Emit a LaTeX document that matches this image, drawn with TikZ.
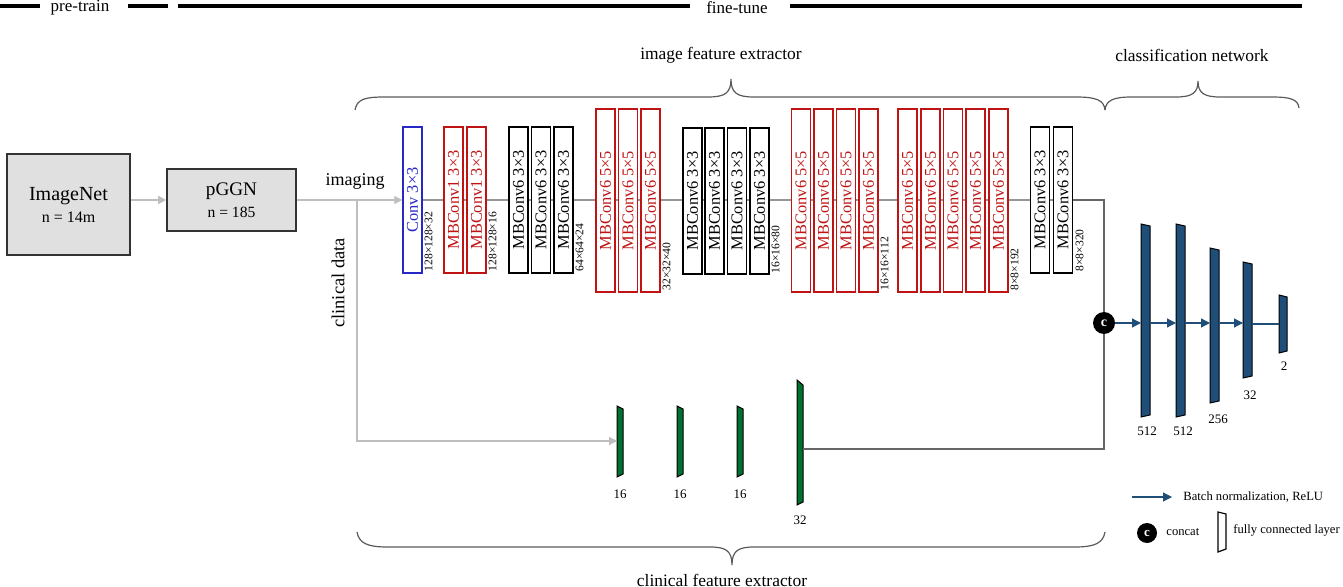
\documentclass[tikz,border=0pt]{standalone}
\usepackage{fontspec}
\setmainfont{Liberation Serif}
\usetikzlibrary{arrows.meta,backgrounds}
\definecolor{boxred}{RGB}{192,20,20}
\definecolor{convblue}{RGB}{40,40,200}
\definecolor{fcblue}{RGB}{31,78,121}
\definecolor{fcgreen}{RGB}{0,112,48}
\definecolor{boxgray}{RGB}{224,224,224}
\definecolor{linegray}{RGB}{150,150,150}
\definecolor{lightline}{RGB}{190,190,190}
\definecolor{bracegray}{RGB}{90,90,90}
\begin{document}
\begin{tikzpicture}[x=0.5pt,y=-0.5pt,
  layer/.style={draw, fill=white, rotate=90, inner sep=0pt, minimum height=9.5pt, line width=0.7pt, font=\fontsize{8.2}{9}\selectfont},
  short/.style={layer, minimum width=73pt},
  tall/.style={layer, minimum width=91.5pt},
  redbox/.style={draw=boxred, text=boxred},
  bluebox/.style={draw=convblue, text=convblue},
  dimlabel/.style={rotate=90, anchor=north west, inner sep=0.6pt, font=\fontsize{5.8}{6}\selectfont},
  graybox/.style={draw=black!80, line width=0.8pt, fill=boxgray, align=center},
  grayarrow/.style={draw=lightline, line width=0.6pt, -{Triangle[length=4pt,width=4pt]}},
  bluearrow/.style={draw=fcblue, line width=0.6pt, -{Triangle[length=4.5pt,width=4.5pt]}},
  fcb/.style={draw=black, line width=0.5pt, fill=fcblue},
  fcg/.style={draw=black, line width=0.5pt, fill=fcgreen},
  numlabel/.style={font=\fontsize{6.5}{7}\selectfont, inner sep=0pt},
  legtxt/.style={font=\fontsize{6.3}{7}\selectfont, inner sep=0pt, anchor=west},
  bartxt/.style={font=\fontsize{8.5}{9}\selectfont, inner sep=0pt},
  section/.style={font=\fontsize{8.7}{10}\selectfont, inner sep=0pt},
  brace/.style={draw=bracegray, line width=0.6pt},
  topbar/.style={line width=2pt, black}
]
\useasboundingbox (0,0) rectangle (1343,587);

% top bars
\draw[topbar] (0,6) -- (40,6);
\draw[topbar] (128,6) -- (168,6);
\draw[topbar] (178,6) -- (690,6);
\draw[topbar] (790,6) -- (1302,6);
\node[bartxt] (pretrain) at (80,8) {pre-train};
\node[bartxt] (finetune) at (737,8) {fine-tune};

% section titles and braces
\node[section] (ifx) at (721,55) {image feature extractor};
\node[section] (cln) at (1192,55) {classification network};
\node[section] (cfx) at (722,580) {clinical feature extractor};
\draw[brace] (355,110) .. controls (357,99) and (365,97) .. (385,97) -- (708,97)
  .. controls (725,97) and (731,93) .. (731,79) .. controls (731,93) and (737,97) .. (754,97)
  -- (1076,97) .. controls (1096,97) and (1104,100) .. (1105,110);
\draw[brace] (1105,110) .. controls (1106,100) and (1114,97) .. (1132,97) -- (1176,97)
  .. controls (1192,97) and (1198,93) .. (1198,81) .. controls (1198,93) and (1204,97) .. (1220,97)
  -- (1272,97) .. controls (1292,97) and (1298,100) .. (1299,108);
\draw[brace] (357,532) .. controls (359,543) and (367,547) .. (387,547) -- (710,547)
  .. controls (726,547) and (732,551) .. (732,565) .. controls (732,551) and (738,547) .. (754,547)
  -- (1075,547) .. controls (1095,547) and (1103,543) .. (1105,532);

% input boxes
\node[graybox, minimum width=61.5pt, minimum height=50.5pt] (imagenet) at (68.5,204.5)
  {{\fontsize{10}{11}\selectfont ImageNet}\\[-1pt]{\fontsize{8}{9}\selectfont n = 14m}};
\node[graybox, minimum width=64.5pt, minimum height=31pt] (pggn) at (231.5,200)
  {{\fontsize{9.6}{10}\selectfont pGGN}\\[-1pt]{\fontsize{7.8}{9}\selectfont n = 185}};
\node[font=\fontsize{9}{10}\selectfont, inner sep=0pt] (imaging) at (355,181) {imaging};
\node[font=\fontsize{9.2}{10}\selectfont, inner sep=0pt, rotate=90] (clin) at (338,283) {clinical data};

% image feature extractor layers
\node[short, bluebox] (conv) at (412.5,200) {Conv 3×3};
\node[short, redbox] (m1) at (453.5,200) {MBConv1 3×3};
\node[short, redbox] (m2) at (476.5,200) {MBConv1 3×3};
\node[short] (m3) at (518.5,200) {MBConv6 3×3};
\node[short] (m4) at (541,200) {MBConv6 3×3};
\node[short] (m5) at (563.5,200) {MBConv6 3×3};
\node[tall, redbox] (m6) at (605.5,200.5) {MBConv6 5×5};
\node[tall, redbox] (m7) at (628,200.5) {MBConv6 5×5};
\node[tall, redbox] (m8) at (650.5,200.5) {MBConv6 5×5};
\node[short] (m9) at (692.5,201) {MBConv6 3×3};
\node[short] (m10) at (714.5,201) {MBConv6 3×3};
\node[short] (m11) at (737,201) {MBConv6 3×3};
\node[short] (m12) at (759.5,201) {MBConv6 3×3};
\node[tall, redbox] (m13) at (801,200.5) {MBConv6 5×5};
\node[tall, redbox] (m14) at (823.5,200.5) {MBConv6 5×5};
\node[tall, redbox] (m15) at (846,200.5) {MBConv6 5×5};
\node[tall, redbox] (m16) at (868.5,200.5) {MBConv6 5×5};
\node[tall, redbox] (m17) at (907.5,200.5) {MBConv6 5×5};
\node[tall, redbox] (m18) at (930.5,200.5) {MBConv6 5×5};
\node[tall, redbox] (m19) at (953,200.5) {MBConv6 5×5};
\node[tall, redbox] (m20) at (975.5,200.5) {MBConv6 5×5};
\node[tall, redbox] (m21) at (998.5,200.5) {MBConv6 5×5};
\node[short] (m22) at (1040,200) {MBConv6 3×3};
\node[short] (m23) at (1063,200) {MBConv6 3×3};

% dimension labels
\node[dimlabel] (d1) at (423,273) {128×128×32};
\node[dimlabel] (d2) at (487,273) {128×128×16};
\node[dimlabel] (d3) at (574,273) {64×64×24};
\node[dimlabel] (d4) at (661,292) {32×32×40};
\node[dimlabel] (d5) at (770,275) {16×16×80};
\node[dimlabel] (d6) at (879,292) {16×16×112};
\node[dimlabel] (d7) at (1009,292) {8×8×192};
\node[dimlabel] (d8) at (1074,273) {8×8×320};

% concat
\node[circle, fill=black, text=white, minimum size=11pt, inner sep=0pt, font=\fontsize{7}{7}\bfseries\selectfont] (cc) at (1104,323) {c};

% main line behind boxes
\begin{pgfonlayer}{background}
\draw[linegray, line width=0.8pt] (conv.center) -- (m23.center);
\end{pgfonlayer}
\draw[black!60, line width=0.7pt] (m23.south) -| (cc.north);

% connectors from inputs
\draw[grayarrow] (imagenet.east |- pggn.west) -- (pggn.west);
\draw[grayarrow] (pggn.east) -- (conv.north);
\coordinate (br) at (357,200);

% clinical feature extractor layers
\draw[fcg] (617,406) -- (623,409) -- (623,474) -- (617,477) -- cycle;
\draw[fcg] (677,406) -- (683,409) -- (683,474) -- (677,477) -- cycle;
\draw[fcg] (737,406) -- (743,409) -- (743,474) -- (737,477) -- cycle;
\draw[fcg] (797,380) -- (803,385) -- (803,502) -- (797,505) -- cycle;
\coordinate (g1w) at (617,441);
\coordinate (g4e) at (803,449);
\node[numlabel] (n16a) at (620,494) {16};
\node[numlabel] (n16b) at (680,494) {16};
\node[numlabel] (n16c) at (740,494) {16};
\node[numlabel] (n32g) at (800,520) {32};
\draw[grayarrow] (br) |- (g1w);
\draw[black!60, line width=0.7pt] (g4e) -| (cc.south);

% classification network
\draw[fcb] (1141,224) -- (1150,226) -- (1150,415) -- (1141,417) -- cycle;
\draw[fcb] (1176,224) -- (1185,226) -- (1185,415) -- (1176,417) -- cycle;
\draw[fcb] (1210,248) -- (1219,250) -- (1219,401) -- (1210,403) -- cycle;
\draw[fcb] (1243,262) -- (1252,264) -- (1252,376) -- (1243,378) -- cycle;
\draw[fcb] (1279,295) -- (1287,297) -- (1287,351) -- (1279,353) -- cycle;
\coordinate (b1w) at (1141,323);
\coordinate (b1e) at (1150,323);
\coordinate (b2w) at (1176,323);
\coordinate (b2e) at (1185,323);
\coordinate (b3w) at (1210,323);
\coordinate (b3e) at (1219,323);
\coordinate (b4w) at (1243,323);
\coordinate (b4e) at (1252,324);
\coordinate (b5w) at (1279,324);
\draw[bluearrow] (cc) -- (b1w);
\draw[bluearrow] (b1e) -- (b2w);
\draw[bluearrow] (b2e) -- (b3w);
\draw[bluearrow] (b3e) -- (b4w);
\draw[fcblue, line width=0.6pt] (b4e) -- (b5w);
\node[numlabel] (n512a) at (1147,431) {512};
\node[numlabel] (n512b) at (1183,431) {512};
\node[numlabel] (n256) at (1218,419) {256};
\node[numlabel] (n32) at (1250,395) {32};
\node[numlabel] (n2) at (1284,366) {2};

% legend
\coordinate (la1) at (1132,497);
\coordinate (la2) at (1172,497);
\node[legtxt] (lbn) at (1183,497) {Batch normalization, ReLU};
\draw[bluearrow] (la1) -- (la2);
\node[circle, fill=black, text=white, minimum size=10pt, inner sep=0pt, font=\fontsize{6.5}{7}\bfseries\selectfont] (lcc) at (1147,533) {c};
\node[legtxt] (lconcat) at (1166,532) {concat};
\draw[draw=black, line width=0.6pt, fill=white] (1218,512) -- (1226,514) -- (1226,549) -- (1218,552) -- cycle;
\node[legtxt] (lfc) at (1233,530) {fully connected layer};
\end{tikzpicture}
\end{document}
